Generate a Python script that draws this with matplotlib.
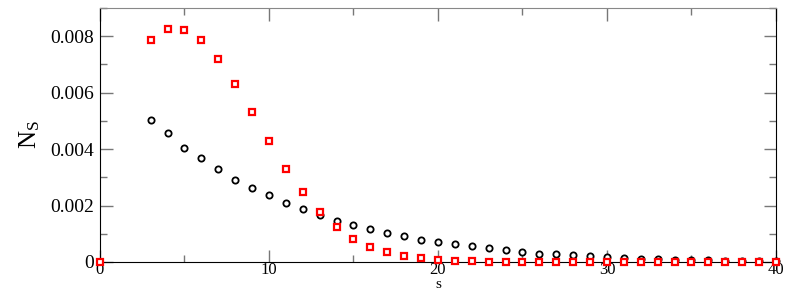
import matplotlib.pyplot as plt
from matplotlib.ticker import MultipleLocator, FuncFormatter

plt.rcParams['font.family'] = ['Liberation Serif', 'DejaVu Serif']
plt.rcParams['mathtext.fontset'] = 'custom'
plt.rcParams['mathtext.rm'] = 'Liberation Serif'
plt.rcParams['mathtext.it'] = 'Liberation Serif'

# black circles
s_black = list(range(3, 41))
n_black = [0.00503, 0.00457, 0.00403, 0.00368, 0.00331, 0.00292, 0.00263, 0.00239,
           0.00209, 0.00189, 0.00165, 0.00147, 0.00132, 0.00116, 0.00102, 0.00091,
           0.00079, 0.00071, 0.00062, 0.00055, 0.00048, 0.00041, 0.00035, 0.00030,
           0.00027, 0.00024, 0.00021, 0.00017, 0.00014, 0.00012, 0.00010, 0.00008,
           0.00007, 0.00006, 0.00005, 0.00004, 0.00003, 0.00003]

# red squares
s_red = [0] + list(range(3, 41))
n_red = [0.0, 0.00788, 0.00824, 0.00823, 0.00787, 0.00721, 0.00630, 0.00530, 0.00429,
         0.00331, 0.00248, 0.00178, 0.00123, 0.00081, 0.00053, 0.00034, 0.00020,
         0.00013, 0.00007, 0.00003, 0.00002, 0.00001, 0.00001, 0.0, 0.0, 0.0, 0.0,
         0.0, 0.0, 0.0, 0.0, 0.0, 0.0, 0.0, 0.0, 0.0, 0.0, 0.0, 0.0]

fig = plt.figure(figsize=(7.89, 2.91), dpi=100)
ax = fig.add_axes([0.1267, 0.0997, 0.8568, 0.8728])

ax.plot(s_black, n_black, 'o', ms=4.5, mfc='white', mec='black', mew=1.3, clip_on=False)
ax.plot(s_red, n_red, 's', ms=4.5, mfc='white', mec='red', mew=1.6, clip_on=False, zorder=3)

ax.set_xlim(0, 40)
ax.set_ylim(0, 0.009)
ax.xaxis.set_major_locator(MultipleLocator(10))
ax.xaxis.set_minor_locator(MultipleLocator(5))
ax.yaxis.set_major_locator(MultipleLocator(0.002))
ax.yaxis.set_minor_locator(MultipleLocator(0.001))
ax.yaxis.set_major_formatter(FuncFormatter(lambda v, p: '0' if abs(v) < 1e-12 else f'{v:.3f}'))

ax.tick_params(which='both', direction='in', top=True, right=True, colors='#777777',
               labelcolor='black', labelsize=14, width=1)
ax.tick_params(which='major', length=9, pad=4)
ax.tick_params(which='minor', length=5)
ax.tick_params(axis='x', labelsize=12, pad=0)

for side in ['left', 'bottom', 'right']:
    ax.spines[side].set_color('black')
ax.spines['top'].set_color('#888888')

fig.text(0.5 * (0.1267 * 2 + 0.8568), 0.0, 's', fontsize=11, ha='center', va='bottom')
ax.set_ylabel(r'$\mathregular{N_S}$', fontsize=18, labelpad=6)

fig.savefig('out.png', dpi=100)
